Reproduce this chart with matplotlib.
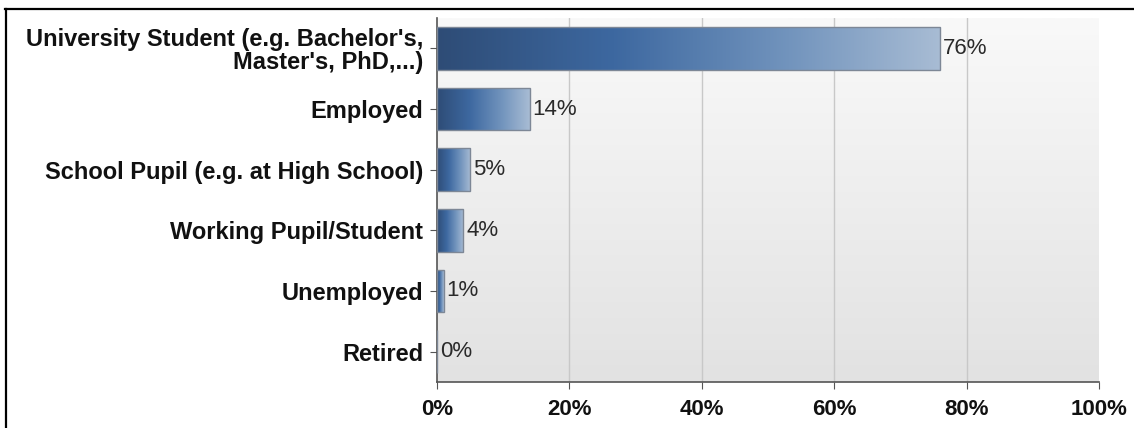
import numpy as np
import matplotlib
matplotlib.use("Agg")
import matplotlib.pyplot as plt
from matplotlib.colors import LinearSegmentedColormap
from matplotlib.lines import Line2D

categories = [
    "University Student (e.g. Bachelor's,\nMaster's, PhD,...)",
    "Employed",
    "School Pupil (e.g. at High School)",
    "Working Pupil/Student",
    "Unemployed",
    "Retired",
]
percentages = [76, 14, 5, 4, 1, 0]
x_ticks = [0, 20, 40, 60, 80, 100]

plt.rcParams['font.family'] = ['Liberation Sans', 'DejaVu Sans']

fig = plt.figure(figsize=(11.34, 4.28), dpi=100)
ax = fig.add_axes([437 / 1134, 1 - 382 / 428, 662 / 1134, 364 / 428])

n = len(categories)

# vertical grey gradient behind the plot
bg = LinearSegmentedColormap.from_list("bg", ["#f9f9f9", "#e2e2e2"])
ax.imshow(np.linspace(0, 1, 256).reshape(-1, 1), cmap=bg, aspect="auto",
          extent=[0, 100, n - 0.5, -0.5], zorder=0)

for x in x_ticks[1:-1]:
    ax.axvline(x, color="#c8c8c8", lw=1.0, zorder=1)

# each bar gets its own left-to-right blue gradient
bar_cmap = LinearSegmentedColormap.from_list(
    "bar", [(0, "#2e4c76"), (0.35, "#3d68a0"), (0.7, "#7294bd"), (1, "#a8bcd4")])
h = 0.7
grad = np.linspace(0, 1, 256).reshape(1, -1)
for i, v in enumerate(percentages):
    bars = ax.barh(i, v, height=h, color="none", edgecolor="#7d8796",
                   lw=1.0, zorder=3)
    if v > 0:
        im = ax.imshow(grad, cmap=bar_cmap, aspect="auto",
                       extent=[0, v, i + h / 2, i - h / 2], zorder=2)
        im.set_clip_path(bars.patches[0])
    ax.text(v + 0.45, i, f"{v}%", va="center", ha="left", fontsize=16,
            color="#2a2a2a", zorder=4)

ax.set_xlim(0, 100)
ax.set_ylim(n - 0.5, -0.5)

ax.set_yticks(range(n))
ax.set_yticklabels(categories, fontsize=17, fontweight="bold",
                   color="#111111", linespacing=1.0)
ax.set_xticks(x_ticks)
ax.set_xticklabels([f"{x}%" for x in x_ticks], fontsize=16, fontweight="bold",
                   color="#111111")
ax.tick_params(axis="y", length=5, color="#555555", pad=5)
ax.tick_params(axis="x", length=5, color="#555555", pad=7)

for side in ["top", "right"]:
    ax.spines[side].set_visible(False)
for side in ["left", "bottom"]:
    ax.spines[side].set_color("#555555")
    ax.spines[side].set_linewidth(1.2)

# frame lines along the top and left edge
fig.add_artist(Line2D([5.5 / 1134, 5.5 / 1134], [0, 1 - 9 / 428],
                      transform=fig.transFigure, color="black", lw=1.6))
fig.add_artist(Line2D([5 / 1134, 1], [1 - 9 / 428, 1 - 9 / 428],
                      transform=fig.transFigure, color="black", lw=1.6))

fig.savefig("out.png", dpi=100)
